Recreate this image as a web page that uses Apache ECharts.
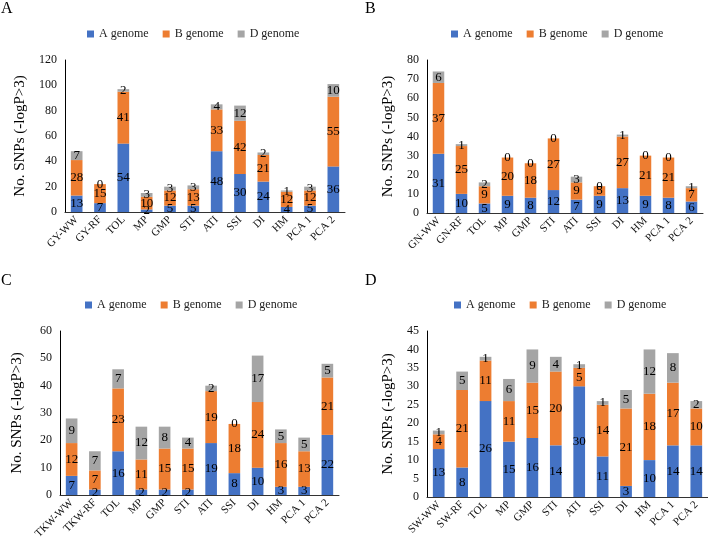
<!DOCTYPE html>
<html>
<head>
<meta charset="utf-8">
<script src="https://cdn.jsdelivr.net/npm/echarts@6/dist/echarts.min.js"></script>
<style>
  html, body { margin: 0; padding: 0; background: #fff; }
  #chart { width: 708px; height: 544px; }
</style>
</head>
<body>
<div id="chart"></div>
<script>
// 数据
const catsA = ['GY-WW', 'GY-RF', 'TOL', 'MP', 'GMP', 'STI', 'ATI', 'SSI', 'DI', 'HM', 'PCA 1', 'PCA 2']
const aGenomeA = [13, 7, 54, 2, 5, 5, 48, 30, 24, 4, 5, 36]
const bGenomeA = [28, 15, 41, 10, 12, 13, 33, 42, 21, 12, 12, 55]
const dGenomeA = [7, 0, 2, 3, 3, 3, 4, 12, 2, 1, 3, 10]

const catsB = ['GN-WW', 'GN-RF', 'TOL', 'MP', 'GMP', 'STI', 'ATI', 'SSI', 'DI', 'HM', 'PCA 1', 'PCA 2']
const aGenomeB = [31, 10, 5, 9, 8, 12, 7, 9, 13, 9, 8, 6]
const bGenomeB = [37, 25, 9, 20, 18, 27, 9, 5, 27, 21, 21, 7]
const dGenomeB = [6, 1, 2, 0, 0, 0, 3, 0, 1, 0, 0, 1]

const catsC = ['TKW-WW', 'TKW-RF', 'TOL', 'MP', 'GMP', 'STI', 'ATI', 'SSI', 'DI', 'HM', 'PCA 1', 'PCA 2']
const aGenomeC = [7, 2, 16, 2, 2, 2, 19, 8, 10, 3, 3, 22]
const bGenomeC = [12, 7, 23, 11, 15, 15, 19, 18, 24, 16, 13, 21]
const dGenomeC = [9, 7, 7, 12, 8, 4, 2, 0, 17, 5, 5, 5]

const catsD = ['SW-WW', 'SW-RF', 'TOL', 'MP', 'GMP', 'STI', 'ATI', 'SSI', 'DI', 'HM', 'PCA 1', 'PCA 2']
const aGenomeD = [13, 8, 26, 15, 16, 14, 30, 11, 3, 10, 14, 14]
const bGenomeD = [4, 21, 11, 11, 15, 20, 5, 14, 21, 18, 17, 10]
const dGenomeD = [1, 5, 1, 6, 9, 4, 1, 1, 5, 12, 8, 2]

const yMax = [120, 80, 60, 45]
const yInterval = [20, 10, 10, 5]
const panelLetters = ['A', 'B', 'C', 'D']
const seriesNames = ['A genome', 'B genome', 'D genome']

const panels = [
  { cats: catsA, data: [aGenomeA, bGenomeA, dGenomeA] },
  { cats: catsB, data: [aGenomeB, bGenomeB, dGenomeB] },
  { cats: catsC, data: [aGenomeC, bGenomeC, dGenomeC] },
  { cats: catsD, data: [aGenomeD, bGenomeD, dGenomeD] }
]

// 布局
const font = 'Liberation Serif'
const colors = ['#4472C4', '#ED7D31', '#A5A5A5']
const grids = [
  { left: 65, top: 60, width: 280, height: 152 },
  { left: 427, top: 60, width: 276, height: 153 },
  { left: 60, top: 331, width: 279, height: 164 },
  { left: 427, top: 331, width: 286, height: 166 }
]
const nameGaps = [37, 31, 35, 31]
const legendPos = [
  { left: 87, top: 28 },
  { left: 451, top: 28 },
  { left: 85, top: 299 },
  { left: 454, top: 299 }
]
const letterPos = [
  { left: 1, top: 1 },
  { left: 365, top: 1 },
  { left: 1, top: 273 },
  { left: 365, top: 273 }
]

const option = {
  animation: false,
  color: colors,
  textStyle: { fontFamily: font },
  title: panelLetters.map((t, i) => ({
    text: t,
    left: letterPos[i].left,
    top: letterPos[i].top,
    padding: 0,
    textStyle: { fontFamily: font, fontSize: 16, fontWeight: 'normal', color: '#000' }
  })),
  legend: legendPos.map(p => ({
    left: p.left,
    top: p.top,
    data: seriesNames,
    icon: 'rect',
    itemWidth: 7,
    itemHeight: 7,
    itemGap: 14,
    padding: 0,
    textStyle: { fontFamily: font, fontSize: 12, color: '#222' }
  })),
  grid: grids,
  xAxis: panels.map((p, i) => ({
    type: 'category',
    gridIndex: i,
    data: p.cats,
    axisLine: { lineStyle: { color: '#333' } },
    axisTick: { show: false },
    axisLabel: { rotate: 45, interval: 0, fontFamily: font, fontSize: 11, color: '#111', margin: 6 }
  })),
  yAxis: panels.map((p, i) => ({
    type: 'value',
    gridIndex: i,
    min: 0,
    max: yMax[i],
    interval: yInterval[i],
    name: 'No. SNPs (-logP>3)',
    nameLocation: 'middle',
    nameGap: nameGaps[i],
    nameTextStyle: { fontFamily: font, fontSize: 15, color: '#000' },
    axisLine: { show: true, lineStyle: { color: '#000' } },
    axisTick: { show: false },
    splitLine: { show: false },
    axisLabel: { fontFamily: font, fontSize: 12, color: '#111', margin: 8 }
  })),
  series: []
}

panels.forEach((p, i) => {
  p.data.forEach((vals, k) => {
    option.series.push({
      name: seriesNames[k],
      type: 'bar',
      stack: 'total' + i,
      xAxisIndex: i,
      yAxisIndex: i,
      barWidth: '50%',
      data: vals,
      label: {
        show: true,
        position: 'inside',
        fontFamily: font,
        fontSize: 13,
        color: '#000'
      }
    })
  })
})

const chart = echarts.init(document.getElementById('chart'))
chart.setOption(option)
</script>
</body>
</html>
